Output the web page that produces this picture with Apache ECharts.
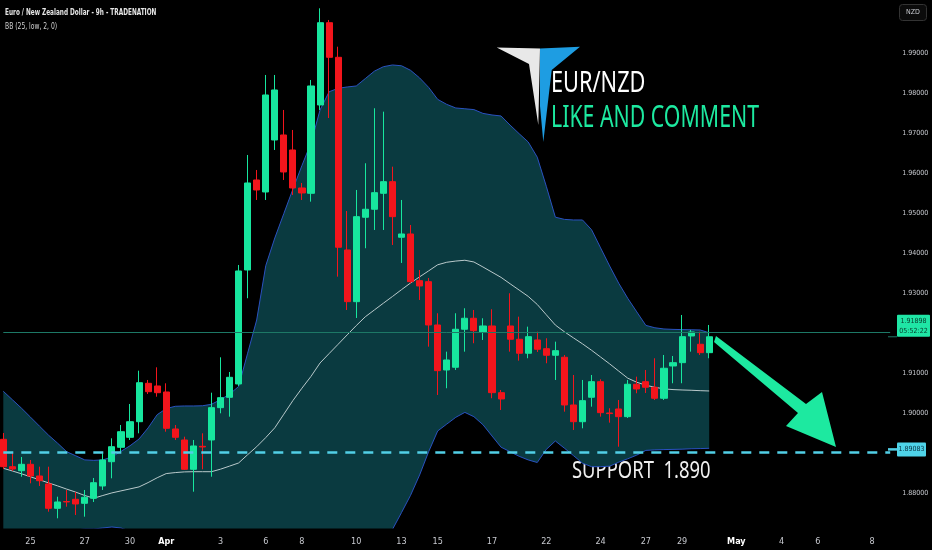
<!DOCTYPE html>
<html><head><meta charset="utf-8">
<script src="https://cdn.jsdelivr.net/npm/echarts@6.0.0/dist/echarts.min.js"></script>
<style>html,body{margin:0;padding:0;background:#000;}#c{width:932px;height:550px;}</style>
</head><body><div id="c"></div>
<script>
// ---- data (EUR/NZD, 9h bars) ----
const opens  = [1.89335,1.88650,1.88550,1.88710,1.88418,1.88218,1.87610,1.87780,1.87835,1.87735,1.87860,1.88168,1.88775,1.89135,1.89385,1.89775,1.90735,1.90668,1.90518,1.89593,1.89318,1.88585,1.89160,1.89318,1.90126,1.90385,1.90718,1.93568,1.95818,1.95518,1.96818,1.96943,1.96568,1.95618,1.95485,1.97693,1.99750,1.98885,1.94068,1.92776,1.94886,1.95086,1.95485,1.95776,1.94386,1.94468,1.93301,1.93276,1.92193,1.91068,1.91136,1.92086,1.92361,1.92011,1.92168,1.90501,1.92168,1.91836,1.91486,1.91818,1.91601,1.91436,1.91386,1.90193,1.89775,1.90386,1.90776,1.89993,1.90093,1.89901,1.90711,1.90776,1.90636,1.90361,1.91168,1.91251,1.91918,1.91711,1.91501];
const closes = [1.88650,1.88593,1.88710,1.88418,1.88300,1.87610,1.87768,1.87768,1.87718,1.87885,1.88250,1.88818,1.89150,1.89525,1.89775,1.90750,1.90525,1.90500,1.89610,1.89385,1.88585,1.89168,1.89143,1.90126,1.90376,1.90885,1.93543,1.95743,1.95568,1.97943,1.98068,1.96018,1.95618,1.95493,1.98168,1.99750,1.98885,1.94136,1.92776,1.94901,1.95086,1.95501,1.95776,1.94901,1.94468,1.93276,1.93168,1.92193,1.91051,1.91318,1.92086,1.92361,1.92051,1.92168,1.90501,1.90343,1.91836,1.91486,1.91901,1.91586,1.91436,1.91551,1.90193,1.89775,1.90301,1.90776,1.90001,1.89978,1.89901,1.90711,1.90593,1.90636,1.90361,1.91111,1.91251,1.91901,1.92018,1.91501,1.91898];
const highs  = [1.89493,1.89018,1.88893,1.88818,1.88650,1.88650,1.87900,1.88068,1.88018,1.88068,1.88368,1.88985,1.89360,1.89693,1.90218,1.91050,1.90818,1.91135,1.90735,1.89693,1.89400,1.89318,1.89485,1.90500,1.91385,1.91018,1.93693,1.96443,1.96068,1.98443,1.98443,1.97568,1.97068,1.95743,1.98318,2.00110,1.99818,1.99150,1.95043,1.95568,1.96236,1.97611,1.97526,1.96151,1.95318,1.94693,1.93568,1.93368,1.92486,1.91526,1.92486,1.92611,1.92568,1.92361,1.92586,1.90568,1.92986,1.92401,1.92151,1.92026,1.91861,1.91776,1.91443,1.90943,1.90818,1.90943,1.90836,1.90111,1.90318,1.90818,1.90901,1.91068,1.91361,1.91443,1.91418,1.92443,1.92068,1.92026,1.92193];
const lows   = [1.88593,1.88543,1.88400,1.88235,1.88168,1.87525,1.87360,1.87650,1.87443,1.87400,1.87768,1.88068,1.88360,1.89025,1.89318,1.89485,1.90468,1.90400,1.89525,1.89318,1.88568,1.88025,1.88585,1.88400,1.89985,1.89900,1.90668,1.92861,1.95318,1.95318,1.96568,1.95818,1.95443,1.95318,1.95276,1.97568,1.97368,1.93401,1.92568,1.92368,1.94111,1.94568,1.94568,1.94193,1.93743,1.93231,1.92818,1.91651,1.90443,1.90611,1.91068,1.91526,1.91736,1.91818,1.90361,1.90068,1.91526,1.91301,1.91361,1.91518,1.91236,1.90818,1.90026,1.89568,1.89610,1.90151,1.89901,1.89751,1.89150,1.89868,1.90486,1.90493,1.90318,1.90318,1.90736,1.90736,1.91526,1.91443,1.91361];
// Bollinger Bands (25, low, 2)
const bbUpper = [1.90535,1.90325,1.90115,1.89890,1.89663,1.89438,1.89238,1.89025,1.88923,1.88820,1.88808,1.88820,1.88893,1.89033,1.89173,1.89343,1.89620,1.89950,1.90103,1.90160,1.90168,1.90168,1.90173,1.90210,1.90325,1.90463,1.90655,1.91488,1.92318,1.93675,1.94368,1.94980,1.95588,1.96180,1.96743,1.97568,1.98023,1.98110,1.98143,1.98168,1.98353,1.98538,1.98650,1.98693,1.98673,1.98560,1.98370,1.98133,1.97833,1.97708,1.97618,1.97598,1.97578,1.97483,1.97443,1.97418,1.97190,1.96975,1.96768,1.96388,1.95660,1.94888,1.94833,1.94818,1.94818,1.94575,1.94120,1.93668,1.93238,1.92860,1.92520,1.92183,1.92123,1.92093,1.92083,1.92078,1.92073,1.92068,1.91998];
const bbLower = [1.86743,1.86793,1.86868,1.86943,1.86993,1.87018,1.87043,1.87068,1.87068,1.87093,1.87093,1.87118,1.87143,1.87118,1.87043,1.86968,1.86893,1.86868,1.86868,1.86893,1.86893,1.86893,1.86893,1.86868,1.86818,1.86768,1.86693,1.86318,1.85568,1.84943,1.84818,1.84818,1.84943,1.85118,1.85318,1.85443,1.85568,1.85693,1.85818,1.86068,1.86443,1.86693,1.86868,1.87080,1.87503,1.87935,1.88443,1.89025,1.89543,1.89715,1.89885,1.90008,1.89900,1.89700,1.89418,1.89138,1.89025,1.88910,1.88820,1.88755,1.89083,1.89293,1.89113,1.88928,1.88738,1.88650,1.88650,1.88663,1.88763,1.88848,1.88940,1.89058,1.89070,1.89078,1.89083,1.89088,1.89098,1.89103,1.89110];
const bbBasis = [1.88610,1.88543,1.88473,1.88398,1.88323,1.88245,1.88170,1.88090,1.88015,1.87930,1.87863,1.87930,1.87995,1.88045,1.88095,1.88145,1.88253,1.88373,1.88478,1.88503,1.88520,1.88525,1.88525,1.88525,1.88588,1.88665,1.88743,1.88950,1.89150,1.89378,1.89623,1.89963,1.90303,1.90613,1.90908,1.91243,1.91478,1.91711,1.91946,1.92178,1.92398,1.92568,1.92738,1.92905,1.93076,1.93243,1.93396,1.93546,1.93698,1.93761,1.93791,1.93811,1.93768,1.93643,1.93513,1.93383,1.93223,1.93066,1.92908,1.92706,1.92448,1.92191,1.92023,1.91871,1.91721,1.91561,1.91391,1.91221,1.91041,1.90863,1.90761,1.90686,1.90636,1.90596,1.90578,1.90568,1.90561,1.90551,1.90543];
// time axis: bar slots incl. future space, and the labelled slots
const totalSlots = 99;
const xTickIndex = [3,9,14,18,24,29,33,39,44,48,54,60,66,71,75,81,86,90,96];
const xTickLabel = ['25','27','30','Apr','3','6','8','10','13','15','17','22','24','27','29','May','4','6','8'];
const yTickLabels = ['1.88000','1.90000','1.91000','1.93000','1.94000','1.95000','1.96000','1.97000','1.98000','1.99000'];
const lastPrice = 1.91898;
const supportPrice = 1.89083;
const countdown = '05:52:22';
const titleText = 'Euro / New Zealand Dollar - 9h - TRADENATION';
const indicatorText = 'BB (25, low, 2, 0)';
const supportText = 'SUPPORT  1.890';

// ---- build ----
const UP = '#17e69e', DOWN = '#f3151c', BAND = '#2a52c0', FILL = '#0a3a40';
const slotLabels = Array.from({length: totalSlots}, () => '');
xTickIndex.forEach((k, i) => { slotLabels[k] = xTickLabel[i]; });
const candles = opens.map((o, i) => [o, closes[i], lows[i], highs[i]]);
const bandWidth = bbUpper.map((u, i) => u - bbLower[i]);

const chart = echarts.init(document.getElementById('c'), null, {renderer: 'canvas'});
const NARROW = "'Liberation Sans Narrow','DejaVu Sans Condensed','Liberation Sans',sans-serif";
chart.setOption({
  backgroundColor: '#000',
  animation: false,
  grid: {left: 3.3, right: 41.8, top: 0.7, bottom: 17.3},
  xAxis: {
    type: 'category', boundaryGap: false, data: slotLabels, z: 20,
    axisLine: {show: false}, axisTick: {show: false}, splitLine: {show: false},
    axisLabel: {
      interval: 0, margin: 4, color: '#c8cad0', fontSize: 9, fontFamily: NARROW,
      formatter: v => (v === 'Apr' || v === 'May') ? '{b|' + v + '}' : v,
      rich: {b: {fontWeight: 'bold', color: '#ffffff', fontSize: 9, fontFamily: NARROW}}
    }
  },
  yAxis: {
    type: 'value', position: 'right', min: 1.87, max: 2.003, interval: 0.01, scale: true, z: 20,
    axisLine: {show: false}, axisTick: {show: false}, splitLine: {show: false},
    axisLabel: {
      margin: 12, color: '#c8cad0', fontSize: 7, fontFamily: NARROW,
      formatter: v => { const s = v.toFixed(5); return yTickLabels.includes(s) ? s : ''; }
    }
  },
  series: [
    {name: 'lower', type: 'line', data: bbLower, stack: 'bb', symbol: 'none', z: 1,
     lineStyle: {color: BAND, width: 1}},
    {name: 'upper', type: 'line', data: bandWidth, stack: 'bb', symbol: 'none', z: 1,
     lineStyle: {color: BAND, width: 1}, areaStyle: {color: FILL, opacity: 1}},
    {name: 'basis', type: 'line', data: bbBasis, symbol: 'none', z: 2,
     lineStyle: {color: '#b9c9cb', width: 1}},
    {name: 'price', type: 'candlestick', data: candles, barWidth: 6.6, clip: false, z: 3,
     itemStyle: {color: UP, color0: DOWN, borderColor: UP, borderColor0: DOWN, borderWidth: 1},
     markLine: {
       silent: true, symbol: 'none', label: {show: false}, animation: false,
       data: [
         {yAxis: lastPrice, lineStyle: {color: '#1d7866', width: 1, type: 'solid'}},
         {yAxis: supportPrice, lineStyle: {color: '#52cfe6', width: 2.5, type: [10, 8]}}
       ]
     }}
  ]
});

const yLast = chart.convertToPixel({yAxisIndex: 0}, lastPrice);
const ySup = chart.convertToPixel({yAxisIndex: 0}, supportPrice);

chart.setOption({graphic: [
  // time-scale strip below the pane
  {type: 'rect', z: 10, shape: {x: 0, y: 528.5, width: 932, height: 22}, style: {fill: '#000'}},
  {type: 'text', x: 5, y: 13, scaleX: 0.8, style: {text: titleText, fill: '#e6e6e6', font: "bold 8px " + NARROW, verticalAlign: 'middle'}},
  {type: 'text', x: 5, y: 27, scaleX: 0.84, style: {text: indicatorText, fill: '#cfcfcf', font: "8px " + NARROW, verticalAlign: 'middle'}},
  // NZD box
  {type: 'rect', shape: {x: 899.5, y: 4.5, width: 27, height: 16, r: 3}, style: {fill: '#0b0b0b', stroke: '#333', lineWidth: 1}},
  {type: 'text', x: 913, y: 12.5, style: {text: 'NZD', fill: '#c8cad0', font: "7px " + NARROW, align: 'center', verticalAlign: 'middle'}},
  // last price tag
  {type: 'rect', shape: {x: 888, y: yLast - 0.5, width: 9, height: 1}, style: {fill: '#1d7866'}},
  {type: 'rect', shape: {x: 897, y: yLast - 22, width: 33, height: 22, r: 1}, style: {fill: '#1fe6a5'}},
  {type: 'text', x: 913.5, y: yLast - 16, style: {text: lastPrice.toFixed(5), fill: '#08382a', font: "7px " + NARROW, align: 'center', verticalAlign: 'middle'}},
  {type: 'text', x: 913.5, y: yLast - 6, style: {text: countdown, fill: '#08382a', font: "7px " + NARROW, align: 'center', verticalAlign: 'middle'}},
  // support tag
  {type: 'rect', shape: {x: 888, y: ySup - 1.25, width: 9, height: 2.5}, style: {fill: '#52cfe6'}},
  {type: 'rect', shape: {x: 897, y: ySup - 7, width: 29, height: 14, r: 1}, style: {fill: '#4fd3e8'}},
  {type: 'text', x: 911.5, y: ySup, style: {text: supportPrice.toFixed(5), fill: '#083040', font: "7px " + NARROW, align: 'center', verticalAlign: 'middle'}},
  // logo
  {type: 'polygon', shape: {points: [[496.7,47.5],[540,48.5],[538.3,125],[529,64]]}, style: {fill: '#e8e8e8'}},
  {type: 'polygon', shape: {points: [[540,48.5],[580,46.7],[551.7,70],[543.3,142],[540,106]]}, style: {fill: '#1e9de2'}},
  {type: 'text', x: 551, y: 84, scaleX: 0.75, style: {text: 'EUR/NZD', fill: '#ffffff', font: "29px 'Noto Sans'", verticalAlign: 'middle'}},
  {type: 'text', x: 551, y: 118, scaleX: 0.71, style: {text: 'LIKE AND COMMENT', fill: '#1de9a0', font: "30px 'Noto Sans'", verticalAlign: 'middle'}},
  // support text
  {type: 'text', x: 572, y: 471, scaleX: 0.8, style: {text: supportText, fill: '#f0f0f0', font: "23px 'Noto Sans'", verticalAlign: 'middle'}},
  // arrow
  {type: 'polygon', shape: {points: [[716,336],[806,404],[822,392],[836,447],[786,426],[798,413],[714,342]]}, style: {fill: '#1de9a0'}}
]});
</script>
</body></html>
